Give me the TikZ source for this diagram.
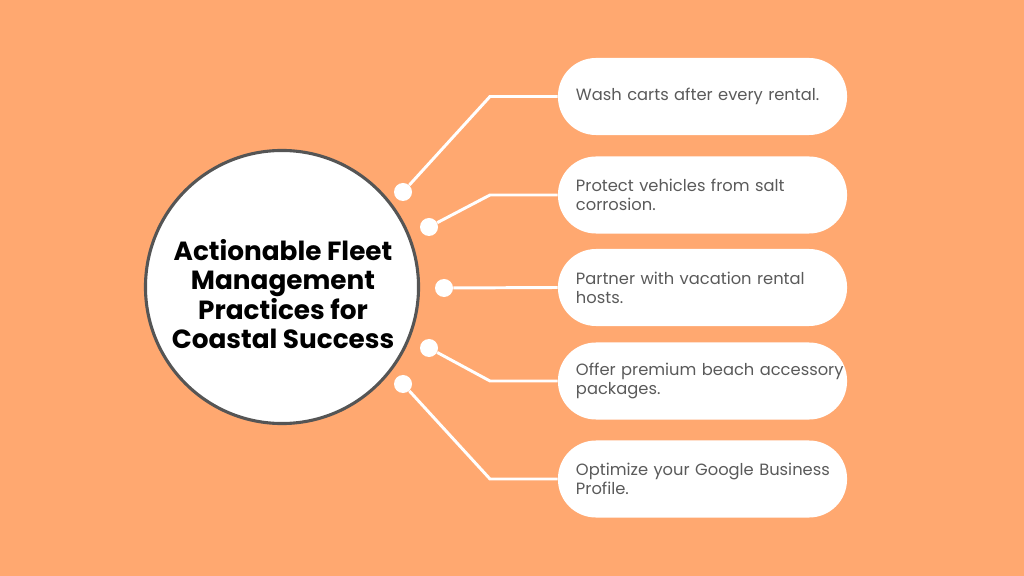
\documentclass[tikz,border=0pt]{standalone}
\usepackage{fontspec}
\setmainfont{Poppins}
\definecolor{bgorange}{HTML}{FFA870}
\definecolor{rimgray}{HTML}{555555}
\definecolor{tipgray}{HTML}{5A5A5A}

\begin{document}
\begin{tikzpicture}[x=0.025cm, y=-0.025cm,
  hub/.style={circle, draw=rimgray, line width=2.2pt, fill=white, minimum size=6.825cm, inner sep=0pt},
  title/.style={align=center, inner sep=0pt, font=\fontsize{18.7pt}{20.8pt}\selectfont\bfseries, text=black},
  tip/.style={rectangle, rounded corners=0.95cm, fill=white, minimum height=1.925cm,
              text width=6.325cm, inner xsep=0.45cm, align=left,
              font=\fontsize{11.6pt}{13.6pt}\selectfont, text=tipgray},
  dot/.style={circle, fill=white, minimum size=0.45cm, inner sep=0pt},
  link/.style={draw=white, line width=2.1pt}
]
  % ===== Background =====
  \fill[bgorange] (0,0) rectangle (1024,576);
  \useasboundingbox (0,0) rectangle (1024,576);

  % ===== Central circle =====
  \node[hub] (hub) at (282,287) {};
  \node[title] (title) at (283,294) {Actionable Fleet\\Management\\Practices for\\Coastal Success};

  % ===== Practice boxes =====
  \node[tip] (t1) at (702.5,96.5) {\mbox{Wash carts after every rental.}};
  \node[tip] (t2) at (702.5,195) {Protect vehicles from salt\\corrosion.};
  \node[tip] (t3) at (702.5,287.5) {Partner with vacation rental\\hosts.};
  \node[tip] (t4) at (702.5,381) {\mbox{Offer premium beach accessory}\\packages.};
  \node[tip] (t5) at (702.5,479) {\mbox{Optimize your Google Business}\\Profile.};

  % ===== Dots on the rim =====
  \node[dot] (d1) at (403,192) {};
  \node[dot] (d2) at (429,227) {};
  \node[dot] (d3) at (444,288) {};
  \node[dot] (d4) at (429,348) {};
  \node[dot] (d5) at (403,384) {};

  % ===== Elbows =====
  \coordinate (k1) at (490,96.5);
  \coordinate (k2) at (490,195);
  \coordinate (k4) at (490,381);
  \coordinate (k5) at (490,479);

  % ===== Connectors =====
  \draw[link] (d1) -- (k1) -- (t1.west);
  \draw[link] (d2) -- (k2) -- (t2.west);
  \draw[link] (d3) -- (t3.west);
  \draw[link] (d4) -- (k4) -- (t4.west);
  \draw[link] (d5) -- (k5) -- (t5.west);
\end{tikzpicture}
\end{document}
